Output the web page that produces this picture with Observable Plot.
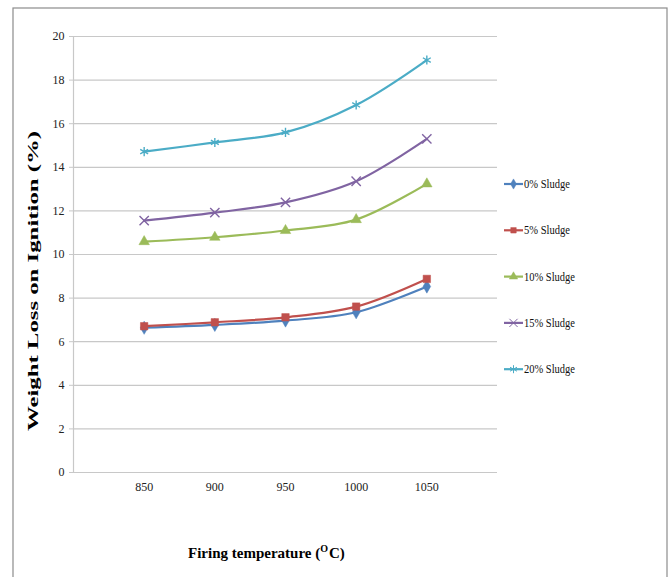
<!DOCTYPE html>
<html>
<head>
<meta charset="utf-8">
<script src="https://cdn.jsdelivr.net/npm/d3@7"></script>
<script src="https://cdn.jsdelivr.net/npm/@observablehq/plot@0.6"></script>
<style>
  html, body { margin: 0; padding: 0; background: #fff; }
  #chart { position: relative; width: 670px; height: 577px; }
  #chart svg, #chart svg text { font-family: "Liberation Serif", "Times New Roman", serif !important; }
</style>
</head>
<body>
<div id="chart"></div>
<script>
const temps = [850, 900, 950, 1000, 1050];
const seriesNames = ["0% Sludge", "5% Sludge", "10% Sludge", "15% Sludge", "20% Sludge"];
const sludge0  = [6.64, 6.77, 6.97, 7.35, 8.53];
const sludge5  = [6.71, 6.89, 7.12, 7.61, 8.88];
const sludge10 = [10.59, 10.79, 11.10, 11.60, 13.24];
const sludge15 = [11.55, 11.92, 12.39, 13.36, 15.30];
const sludge20 = [14.72, 15.14, 15.60, 16.86, 18.92];
const yTicks = [0, 2, 4, 6, 8, 10, 12, 14, 16, 18, 20];
const colors = ["#4F81BD", "#C0504D", "#9BBB59", "#8064A2", "#4BACC6"];
const symbols = ["diamond", "square", "triangle", "times", "asterisk"];
const xLabel = "Firing temperature (";
const yLabel = "Weight Loss on Ignition (%)";

const allSeries = [sludge0, sludge5, sludge10, sludge15, sludge20];
const data = allSeries.flatMap((vals, i) =>
  vals.map((v, j) => ({ series: seriesNames[i], temp: temps[j], value: v })));

const filled = new Set(["diamond", "square", "triangle"]);
const dotR = { diamond: 4, square: 4.2, triangle: 3.9, times: 4.3, asterisk: 4.3 };

const marks = [
  Plot.gridY(yTicks, { stroke: "#c8c8c8", strokeOpacity: 1, strokeWidth: 1.2 }),
  Plot.ruleX([800], { y1: 0, y2: 20, stroke: "#c8c8c8", strokeWidth: 1.2 }),
  Plot.axisY(yTicks, { tickSize: 4, tickPadding: 5, stroke: "#c8c8c8", fontSize: 12, fill: "#222", label: null }),
  Plot.axisX(temps, { tickSize: 0, tickPadding: 10, fontSize: 12, fill: "#222", label: null, tickFormat: d => String(d) })
];
seriesNames.forEach((name, i) => {
  const d = data.filter(r => r.series === name);
  marks.push(Plot.line(d, { x: "temp", y: "value", stroke: colors[i], strokeWidth: 2.2, curve: "catmull-rom" }));
  const isFilled = filled.has(symbols[i]);
  marks.push(Plot.dot(d, {
    x: "temp", y: "value", symbol: () => symbols[i],
    r: dotR[symbols[i]],
    fill: isFilled ? colors[i] : "none",
    stroke: colors[i], strokeWidth: isFilled ? 0.5 : 1.4
  }));
});

const plot = Plot.plot({
  width: 670,
  height: 577,
  marginLeft: 73,
  marginRight: 173,
  marginTop: 36,
  marginBottom: 105,
  style: { fontFamily: "'Liberation Serif', 'Times New Roman', serif", background: "#fff" },
  x: { type: "linear", domain: [800, 1100] },
  y: { domain: [0, 20] },
  symbol: { type: "identity" },
  marks
});

document.getElementById("chart").appendChild(plot);

const svg = d3.select(plot);

// outer frame
svg.insert("rect", ":first-child")
  .attr("x", 13).attr("y", 8).attr("width", 654).attr("height", 600)
  .attr("fill", "none").attr("stroke", "#8c8c8c").attr("stroke-width", 1.2);

// y title
svg.append("text")
  .attr("transform", "translate(38,281) rotate(-90)")
  .attr("text-anchor", "middle")
  .attr("font-weight", "bold")
  .attr("font-size", 15)
  .attr("textLength", 300)
  .attr("lengthAdjust", "spacingAndGlyphs")
  .attr("fill", "#000")
  .text(yLabel);

// x title with superscript O
const xt = svg.append("text")
  .attr("x", 188).attr("y", 558)
  .attr("text-anchor", "start")
  .attr("font-weight", "bold")
  .attr("font-size", 15)
  .attr("fill", "#000");
xt.append("tspan").text(xLabel);
xt.append("tspan").attr("font-size", 10).attr("dy", -6).text("O");
xt.append("tspan").attr("dy", 6).attr("dx", 1).text("C)");

// legend
const symbolGen = { diamond: d3.symbolDiamond, square: d3.symbolSquare, triangle: d3.symbolTriangle, times: d3.symbolTimes, asterisk: d3.symbolAsterisk };
const lg = svg.append("g").attr("text-anchor", "start");
seriesNames.forEach((name, i) => {
  const y = 184 + i * 46.3;
  const g = lg.append("g").attr("transform", `translate(0,${y})`);
  g.append("line").attr("x1", 504).attr("x2", 523).attr("y1", 0).attr("y2", 0)
    .attr("stroke", colors[i]).attr("stroke-width", 2.2);
  const isFilled = filled.has(symbols[i]);
  g.append("path")
    .attr("transform", "translate(513.5,0)")
    .attr("d", d3.symbol(symbolGen[symbols[i]], isFilled ? 30 : 45)())
    .attr("fill", isFilled ? colors[i] : "none")
    .attr("stroke", colors[i]).attr("stroke-width", isFilled ? 0.5 : 1);
  g.append("text").attr("x", 524).attr("y", 4)
    .attr("text-anchor", "start")
    .attr("font-size", 12).attr("fill", "#111")
    .attr("textLength", name.length > 9 ? 51 : 46).attr("lengthAdjust", "spacingAndGlyphs")
    .text(name);
});
</script>
</body>
</html>
